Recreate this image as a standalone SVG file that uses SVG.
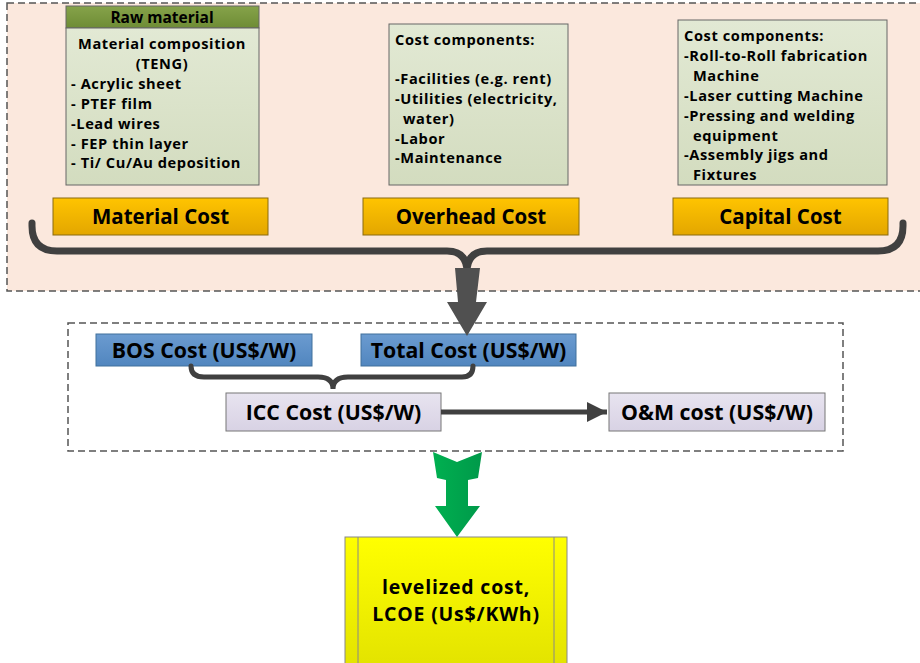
<svg xmlns="http://www.w3.org/2000/svg" width="920" height="663" viewBox="0 0 920 663">
<defs>
<linearGradient id="gGreen" x1="0" y1="0" x2="0" y2="1"><stop offset="0" stop-color="#e2e9d4"/><stop offset="1" stop-color="#d3dcbf"/></linearGradient>
<linearGradient id="gGold" x1="0" y1="0" x2="0" y2="1"><stop offset="0" stop-color="#ffc400"/><stop offset="1" stop-color="#e3a600"/></linearGradient>
<linearGradient id="gHead" x1="0" y1="0" x2="0" y2="1"><stop offset="0" stop-color="#86a34a"/><stop offset="1" stop-color="#6e8c35"/></linearGradient>
<linearGradient id="gBlue" x1="0" y1="0" x2="0" y2="1"><stop offset="0" stop-color="#6b9bd0"/><stop offset="1" stop-color="#5186bf"/></linearGradient>
<linearGradient id="gLav" x1="0" y1="0" x2="0" y2="1"><stop offset="0" stop-color="#e8e4f0"/><stop offset="1" stop-color="#d8d2e4"/></linearGradient>
<linearGradient id="gYel" x1="0" y1="0" x2="0" y2="1"><stop offset="0" stop-color="#ffff00"/><stop offset="1" stop-color="#e3e300"/></linearGradient>
<linearGradient id="gGr" x1="0" y1="0" x2="1" y2="0"><stop offset="0" stop-color="#00b050"/><stop offset="1" stop-color="#00994a"/></linearGradient>
<marker id="ah" viewBox="0 0 10 10" refX="10" refY="5" markerWidth="4" markerHeight="4" markerUnits="strokeWidth" orient="auto"><path d="M0,0 L10,5 L0,10 Z" fill="#404040"/></marker>
</defs>
<style>
text{font-family:"Open Sans","Liberation Sans",sans-serif;font-weight:700;fill:#000}
.dash{fill:none;stroke:#555;stroke-width:1.5;stroke-dasharray:7,4}
.comp{fill:url(#gGreen);stroke:#666;stroke-width:1}
.cost{fill:url(#gGold);stroke:#8a6a10;stroke-width:1}
.blue{fill:url(#gBlue);stroke:#41719c;stroke-width:1}
.lav{fill:url(#gLav);stroke:#777;stroke-width:1}
.t16{font-size:14.6px;letter-spacing:0.6px}
.tc{font-size:20.5px}
.tb{font-size:21.3px}
.tl{font-size:19.5px;letter-spacing:0.8px}
.brace{fill:none;stroke:#404040;stroke-linecap:round}
</style>
<rect x="7" y="3" width="920" height="288" class="dash" style="fill:#fbe8dd"/>
<rect x="68" y="323" width="775" height="128" class="dash"/>

<g id="raw-material">
<rect x="66" y="6" width="193" height="22" fill="url(#gHead)" stroke="#666"/>
<rect x="66" y="28" width="193" height="157" class="comp"/>
<text x="162" y="22.5" text-anchor="middle" style="font-size:15.5px">Raw material</text>
<text x="162" y="49" text-anchor="middle" class="t16">Material composition</text>
<text x="162" y="69" text-anchor="middle" class="t16">(TENG)</text>
<text x="71" y="89" class="t16">- Acrylic sheet</text>
<text x="71" y="109" class="t16">- PTEF film</text>
<text x="71" y="129" class="t16">-Lead wires</text>
<text x="71" y="149" class="t16">- FEP thin layer</text>
<text x="71" y="168" class="t16">- Ti/ Cu/Au deposition</text>
</g>
<g id="overhead-components">
<rect x="389" y="24" width="179" height="161" class="comp"/>
<text x="395" y="45" class="t16">Cost components:</text>
<text x="395" y="84" class="t16">-Facilities (e.g. rent)</text>
<text x="395" y="104" class="t16">-Utilities (electricity,</text>
<text x="403" y="124" class="t16">water)</text>
<text x="395" y="144" class="t16">-Labor</text>
<text x="395" y="163" class="t16">-Maintenance</text>
</g>
<g id="capital-components">
<rect x="678" y="20" width="209" height="165" class="comp"/>
<text x="684" y="41" class="t16">Cost components:</text>
<text x="684" y="61" class="t16">-Roll-to-Roll fabrication</text>
<text x="693" y="81" class="t16">Machine</text>
<text x="684" y="101" class="t16">-Laser cutting Machine</text>
<text x="684" y="121" class="t16">-Pressing and welding</text>
<text x="693" y="141" class="t16">equipment</text>
<text x="684" y="160" class="t16">-Assembly jigs and</text>
<text x="693" y="180" class="t16">Fixtures</text>
</g>
<g id="material-cost">
<rect x="53" y="198" width="215" height="37" class="cost"/>
<text x="160.5" y="224" text-anchor="middle" class="tc">Material Cost</text>
</g>
<g id="overhead-cost">
<rect x="363" y="198" width="216" height="37" class="cost"/>
<text x="471" y="224" text-anchor="middle" class="tc">Overhead Cost</text>
</g>
<g id="capital-cost">
<rect x="673" y="198" width="215" height="37" class="cost"/>
<text x="780.5" y="224" text-anchor="middle" class="tc">Capital Cost</text>
</g>
<g id="bos-cost">
<rect x="96" y="334" width="216" height="32" class="blue"/>
<text x="204" y="357.5" text-anchor="middle" class="tb">BOS Cost (US$/W)</text>
</g>
<g id="total-cost">
<rect x="361" y="334" width="215" height="32" class="blue"/>
<text x="468.5" y="357.5" text-anchor="middle" class="tb">Total Cost (US$/W)</text>
</g>
<g id="icc-cost">
<rect x="226" y="393" width="215" height="38" class="lav"/>
<text x="333.5" y="419.5" text-anchor="middle" class="tb">ICC Cost (US$/W)</text>
</g>
<g id="om-cost">
<rect x="609" y="393" width="216" height="38" class="lav"/>
<text x="717" y="419.5" text-anchor="middle" class="tb">O&amp;M cost (US$/W)</text>
</g>
<g id="lcoe">
<rect x="345" y="537" width="222" height="130" fill="url(#gYel)" stroke="#888"/>
<line x1="358" y1="537" x2="358" y2="667" stroke="#888"/>
<line x1="554" y1="537" x2="554" y2="667" stroke="#888"/>
<text x="456" y="594" text-anchor="middle" class="tl">levelized cost,</text>
<text x="456" y="621" text-anchor="middle" class="tl">LCOE (Us$/KWh)</text>
</g>
<g id="connectors">
<path class="brace" stroke-width="7" d="M32,223 L32,226 Q32,251 57,251 L447,251 Q467,251 467,272 Q467,251 487,251 L878,251 Q903,251 903,226 L903,223"/>
<polygon points="455,268 480,268 476,302 487,302 467,336 447,302 458,302" fill="#505050"/>
<path class="brace" stroke-width="5" d="M191,366 Q191,377 204,377 L318,377 Q333,377 333,389 Q333,377 348,377 L462,377 Q473,377 473,366"/>
<line x1="441" y1="412" x2="607" y2="412" stroke="#404040" stroke-width="5" marker-end="url(#ah)"/>
<polygon points="433,452 457,462 482,452 478,478 468,480 468,506 480,506 457,537 435,506 446,506 446,480 437,478" fill="url(#gGr)"/>
</g>
</svg>
